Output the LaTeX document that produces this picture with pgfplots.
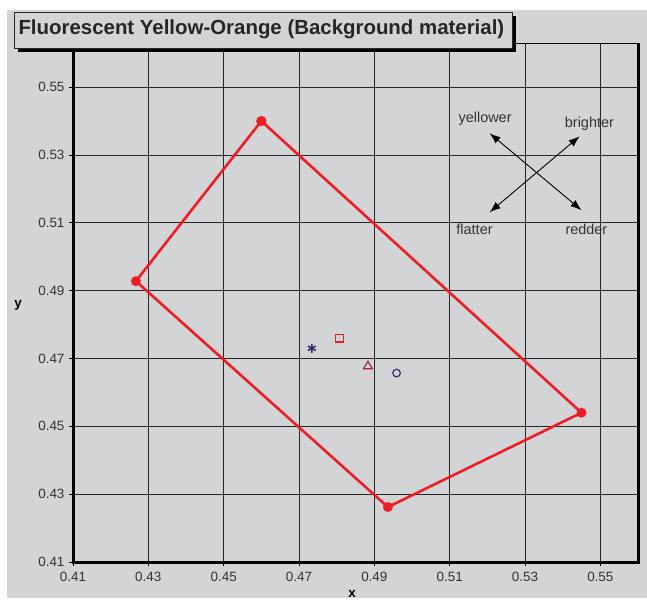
\documentclass[border=0pt]{standalone}
\usepackage{pgfplots}
\pgfplotsset{compat=1.18}
\usepackage{fontspec}
\setmainfont{Liberation Sans}
\usetikzlibrary{arrows.meta}
\definecolor{bg}{HTML}{D3D4D6}
\definecolor{polyred}{HTML}{EE1C25}
\definecolor{navy}{HTML}{2E2E6A}
\definecolor{dred}{HTML}{A3283A}
\definecolor{txt}{HTML}{333333}
\begin{document}
\begin{tikzpicture}[x=1bp,y=1bp]
\fill[white] (0,0) rectangle (647,598);
\fill[bg] (7,0) rectangle (647,588);
\begin{axis}[
  at={(73bp,36bp)}, anchor=south west,
  scale only axis, width=565bp, height=519bp,
  xmin=0.41, xmax=0.56, ymin=0.41, ymax=0.563,
  xtick={0.41,0.43,0.45,0.47,0.49,0.51,0.53,0.55},
  ytick={0.41,0.43,0.45,0.47,0.49,0.51,0.53,0.55},
  xticklabels={0.41,0.43,0.45,0.47,0.49,0.51,0.53,0.55},
  yticklabels={0.41,0.43,0.45,0.47,0.49,0.51,0.53,0.55},
  grid=major,
  grid style={black!85, line width=0.8bp},
  axis line style={black, line width=0.8bp},
  tick align=outside, tick pos=left,
  major tick length=4bp,
  tick style={black, line width=0.8bp},
  ticklabel style={font=\fontsize{13.5}{15}\selectfont, text=txt},
  xticklabel style={yshift=-3bp},
  yticklabel style={xshift=-1bp},
  clip=false,
]
\addplot[polyred, line width=2.6bp, mark=*, mark size=3.6bp, mark options={fill=polyred, draw=polyred}]
  coordinates {(0.460,0.540) (0.4267,0.4928) (0.4936,0.4262) (0.5450,0.4540) (0.460,0.540)};
\addplot[navy, only marks, mark=asterisk, mark size=4.5bp, mark options={line width=1.6bp}] coordinates {(0.4734,0.4730)};
\addplot[polyred, only marks, mark=square, mark size=3.8bp, mark options={line width=1.2bp}] coordinates {(0.4808,0.4760)};
\addplot[dred, only marks, mark=triangle, mark size=5bp, mark options={line width=1.2bp}] coordinates {(0.4883,0.4677)};
\addplot[navy, only marks, mark=o, mark size=3.8bp, mark options={line width=1.2bp}] coordinates {(0.4959,0.4657)};
\draw[black, line width=0.9bp, {Latex[length=11bp,width=8bp]}-{Latex[length=11bp,width=8bp]}] (axis cs:0.5206,0.5364) -- (axis cs:0.5450,0.5137);
\draw[black, line width=0.9bp, {Latex[length=11bp,width=8bp]}-{Latex[length=11bp,width=8bp]}] (axis cs:0.5445,0.5355) -- (axis cs:0.5206,0.5131);
\node[font=\fontsize{14.5}{16}\selectfont, text=txt] at (axis cs:0.5194,0.5408) {yellower};
\node[font=\fontsize{14.5}{16}\selectfont, text=txt] at (axis cs:0.5471,0.5393) {brighter};
\node[font=\fontsize{14.5}{16}\selectfont, text=txt] at (axis cs:0.5166,0.5081) {flatter};
\node[font=\fontsize{14.5}{16}\selectfont, text=txt] at (axis cs:0.5463,0.5081) {redder};
\draw[black, line width=3bp] (rel axis cs:0,1) -- (rel axis cs:0,0) -- (rel axis cs:1,0) -- (rel axis cs:1,1);
\end{axis}
\fill[black] (18,546) rectangle (516,582);
\filldraw[fill=bg, draw=black!85, line width=0.8bp] (14,550) rectangle (512,586);
\node[anchor=west, font=\bfseries\fontsize{20.5}{22}\selectfont, text=black!85] at (15,568.5) {Fluorescent Yellow-Orange (Background material)};
\node[font=\bfseries\fontsize{13.5}{15}\selectfont] at (18,293) {y};
\node[font=\bfseries\fontsize{13.5}{15}\selectfont] at (352,4) {x};
\end{tikzpicture}
\end{document}
